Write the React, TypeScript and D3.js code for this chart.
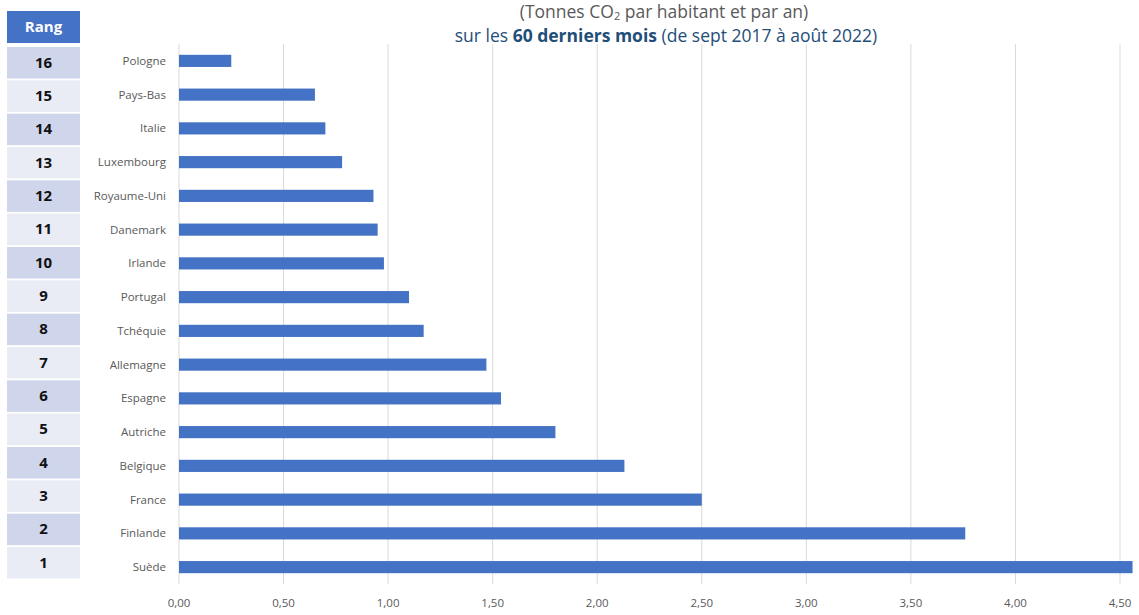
import React from "react";
import * as d3 from "d3";

const countries = ["Pologne","Pays-Bas","Italie","Luxembourg","Royaume-Uni","Danemark","Irlande","Portugal","Tchéquie","Allemagne","Espagne","Autriche","Belgique","France","Finlande","Suède"];
const values = [0.25,0.65,0.70,0.78,0.93,0.95,0.98,1.10,1.17,1.47,1.54,1.80,2.13,2.50,3.76,4.56];
const ranks = [16,15,14,13,12,11,10,9,8,7,6,5,4,3,2,1];
const ticks = [0,0.5,1,1.5,2,2.5,3,3.5,4,4.5];

const W = 1139, H = 615;
const FONT = "'Open Sans', 'Noto Sans', sans-serif";

export default function App() {
  const x = d3.scaleLinear().domain([0, 4.5]).range([179, 1120]);
  const y = d3.scaleBand().domain(countries).range([44, 584]).paddingInner(0.64).paddingOuter(0.32);
  const fmt = (v: number) => v.toFixed(2).replace(".", ",");
  const rowY = d3.scaleLinear().domain([0, 15]).range([47, 547]);
  return (
    <svg width={W} height={H} style={{ position: "absolute", left: 0, top: 0 }} fontFamily={FONT}>
      <rect width={W} height={H} fill="#fff" />
      {ticks.map(t => (
        <line key={t} x1={x(t)} x2={x(t)} y1={44} y2={584} stroke="#d9d9d9" strokeWidth={1} />
      ))}
      {countries.map((c, i) => (
        <rect key={c} x={x(0)} y={y(c)!} width={x(values[i]) - x(0)} height={y.bandwidth()} fill="#4472c4" />
      ))}
      {countries.map(c => (
        <text key={c} x={166} y={y(c)! + y.bandwidth() / 2} dy="0.35em" textAnchor="end" fontSize={11.5} fill="#595959">{c}</text>
      ))}
      {ticks.map(t => (
        <text key={t} x={x(t)} y={603} dy="0.35em" textAnchor="middle" fontSize={11.5} fill="#595959">{fmt(t)}</text>
      ))}
      <rect x={7} y={11} width={73} height={32} fill="#4472c4" />
      <text x={43.5} y={27} dy="0.35em" textAnchor="middle" fontSize={15} fontWeight="bold" fill="#fff">Rang</text>
      {ranks.map((r, i) => (
        <g key={r}>
          <rect x={7} y={rowY(i)} width={73} height={31.5} fill={i % 2 === 0 ? "#cfd5ea" : "#e9ebf5"} />
          <text x={43.5} y={rowY(i) + 15.5} dy="0.35em" textAnchor="middle" fontSize={15} fontWeight="bold" fill="#111">{r}</text>
        </g>
      ))}
      <text x={664} y={12} dy="0.35em" textAnchor="middle" fontSize={17.5} fill="#595959">
        (Tonnes CO<tspan fontSize={11} dy="2">2</tspan><tspan dy="-2"> par habitant et par an)</tspan>
      </text>
      <text x={666} y={36} dy="0.35em" textAnchor="middle" fontSize={17.5} fill="#1f4e79">
        sur les <tspan fontWeight="bold">60 derniers mois</tspan> (de sept 2017 à août 2022)
      </text>
    </svg>
  );
}
